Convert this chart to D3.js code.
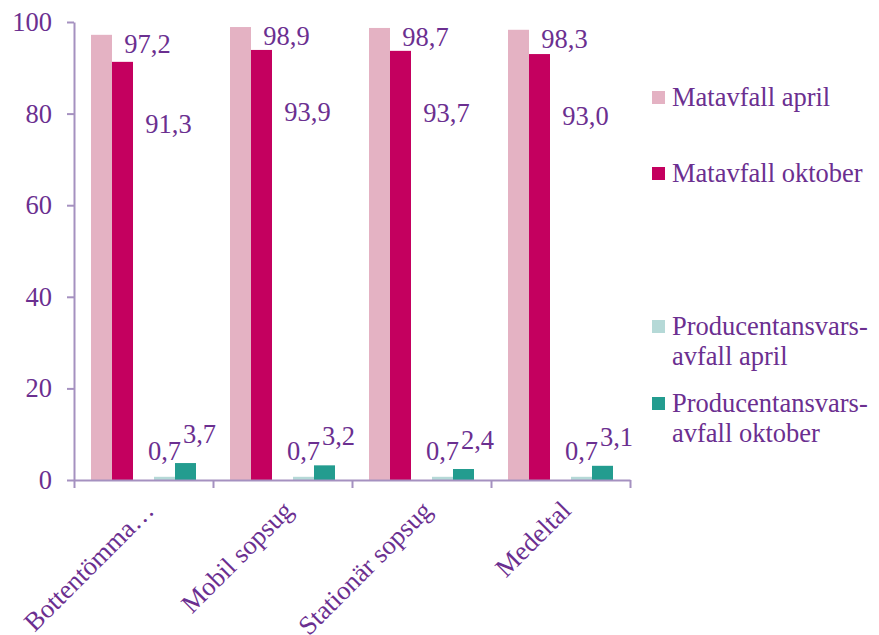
<!DOCTYPE html>
<html>
<head>
<meta charset="utf-8">
<script src="https://cdn.jsdelivr.net/npm/d3@7"></script>
<style>
  body { margin: 0; background: #fff; }
  svg text { font-family: "Liberation Serif", "Times New Roman", serif; fill: #6b2f90; }
</style>
</head>
<body>
<div id="chart"></div>
<script>
var categories = ["Bottentömma…", "Mobil sopsug", "Stationär sopsug", "Medeltal"];
var matApril = [97.2, 98.9, 98.7, 98.3];
var matOktober = [91.3, 93.9, 93.7, 93.0];
var prodApril = [0.7, 0.7, 0.7, 0.7];
var prodOktober = [3.7, 3.2, 2.4, 3.1];
var yTicks = [0, 20, 40, 60, 80, 100];

var series = [
  {key: "ma", name: ["Matavfall april"], values: matApril, color: "#e4b2c3"},
  {key: "mo", name: ["Matavfall oktober"], values: matOktober, color: "#c4005f"},
  {key: "pa", name: ["Producentansvars-", "avfall april"], values: prodApril, color: "#b5d9d7"},
  {key: "po", name: ["Producentansvars-", "avfall oktober"], values: prodOktober, color: "#239c8f"}
];

function drawChart() {
  var w = 879, h = 635,
      plotLeft = 74, plotRight = 630, plotTop = 22, plotBottom = 480,
      axisColor = "#a591c0",
      fontSize = 26.5;

  var svg = d3.select("#chart").append("svg")
      .attr("width", w)
      .attr("height", h);

  var x = d3.scaleBand().domain(categories).range([plotLeft, plotRight]).padding(0);
  // the empty slot "gap" keeps the space Excel leaves between the two pairs
  var sub = d3.scaleBand().domain(["ma", "mo", "gap", "pa", "po"])
      .range([0, x.bandwidth()]).paddingInner(0).paddingOuter(0.81);
  var y = d3.scaleLinear().domain([0, 100]).range([plotBottom, plotTop]);

  /* bars */
  var groups = svg.selectAll("g.cat")
      .data(categories)
      .enter().append("g")
      .attr("class", "cat")
      .attr("transform", function(d) { return "translate(" + x(d) + ",0)"; });

  function rows(d, i) { return series.map(function(s) { return {s: s, v: s.values[i]}; }); }

  groups.selectAll("rect")
      .data(rows)
      .enter().append("rect")
      .attr("x", function(d) { return sub(d.s.key); })
      .attr("y", function(d) { return y(d.v); })
      .attr("width", sub.bandwidth())
      .attr("height", function(d) { return plotBottom - y(d.v); })
      .attr("fill", function(d) { return d.s.color; });

  /* data labels, nudged the way they sit in the original */
  var nudge = {
    ma: {dx: 46, dy: 18},
    mo: {dx: 46, dy: 71},
    pa: {dx: 0, dy: -17},
    po: {dx: 14, dy: -20}
  };
  groups.selectAll("text.lbl")
      .data(rows)
      .enter().append("text")
      .attr("class", "lbl")
      .attr("x", function(d) { return sub(d.s.key) + sub.bandwidth() / 2 + nudge[d.s.key].dx; })
      .attr("y", function(d) { return y(d.v) + nudge[d.s.key].dy; })
      .attr("text-anchor", "middle")
      .style("font-size", fontSize + "px")
      .text(function(d) { return d.v.toFixed(1).replace(".", ","); });

  /* y axis */
  var yAxis = svg.append("g")
      .attr("transform", "translate(" + plotLeft + ",0)")
      .call(d3.axisLeft(y).tickValues(yTicks).tickSize(7).tickSizeOuter(0).tickPadding(15));
  yAxis.select(".domain").attr("stroke", axisColor).attr("stroke-width", 2);
  yAxis.selectAll(".tick line").attr("stroke", axisColor).attr("stroke-width", 2);
  yAxis.selectAll(".tick text")
      .style("font-size", fontSize + "px")
      .attr("fill", null);

  /* x axis: ticks at category boundaries */
  var xb = d3.scaleLinear().domain([0, categories.length]).range([plotLeft, plotRight]);
  var xAxis = svg.append("g")
      .attr("transform", "translate(0," + plotBottom + ")")
      .call(d3.axisBottom(xb).tickValues(d3.range(categories.length + 1))
        .tickSize(8).tickSizeOuter(0).tickFormat(""));
  xAxis.select(".domain").attr("stroke", axisColor).attr("stroke-width", 2);
  xAxis.selectAll(".tick line").attr("stroke", axisColor).attr("stroke-width", 2);

  svg.selectAll("text.catlbl")
      .data(categories)
      .enter().append("text")
      .attr("class", "catlbl")
      .attr("text-anchor", "end")
      .style("font-size", fontSize + "px")
      .attr("transform", function(d) {
        return "translate(" + (x(d) + x.bandwidth() / 2 + 12) + "," + (plotBottom + 32) + ") rotate(-45)";
      })
      .text(function(d) { return d; });

  /* legend */
  var legendY = [106, 182, 335, 412];
  var legend = svg.selectAll("g.leg")
      .data(series)
      .enter().append("g")
      .attr("class", "leg")
      .attr("transform", function(d, i) { return "translate(652," + legendY[i] + ")"; });

  legend.append("rect")
      .attr("x", 0)
      .attr("y", -15)
      .attr("width", 13)
      .attr("height", 13)
      .attr("fill", function(d) { return d.color; });

  legend.append("text")
      .style("font-size", fontSize + "px")
      .selectAll("tspan")
      .data(function(d) { return d.name; })
      .enter().append("tspan")
      .attr("x", 20)
      .attr("y", function(d, i) { return i * 30; })
      .text(function(d) { return d; });
}

drawChart();
</script>
</body>
</html>
